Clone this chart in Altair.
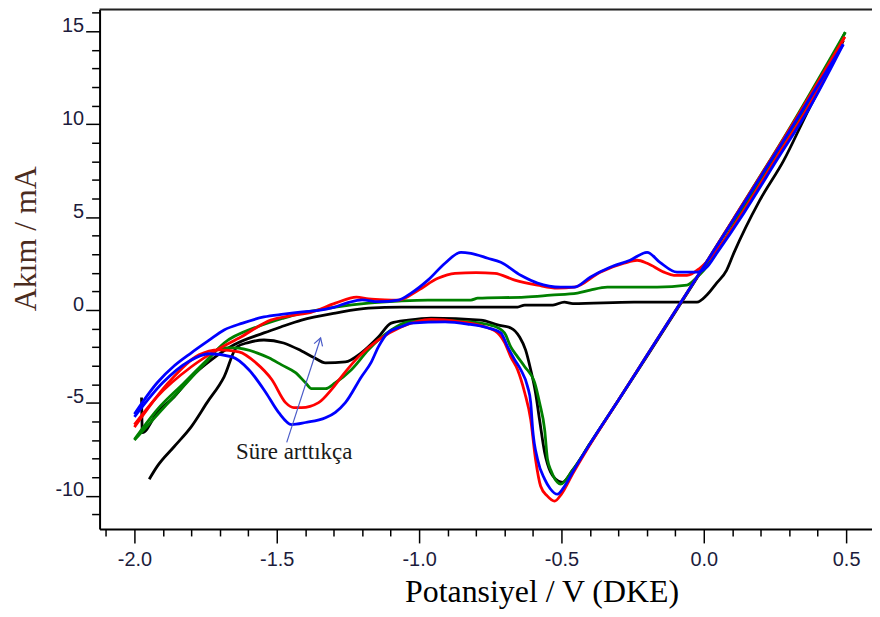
import altair as alt
import pandas as pd

# ---------------- data ----------------
# Each curve is one closed CV loop: anodic branch (left->right) then cathodic branch (right->left)
blue_x = [-2.00, -1.92, -1.86, -1.80, -1.74, -1.685, -1.62, -1.545, -1.476, -1.41, -1.353, -1.30, -1.25, -1.20,
          -1.143, -1.073, -1.028, -0.969, -0.909, -0.853, -0.818, -0.759, -0.713, -0.643, -0.584, -0.503, -0.455,
          -0.399, -0.329, -0.259, -0.199, -0.154, -0.094, -0.024, 0.010, 0.045, 0.140, 0.255, 0.371, 0.490,
          0.30, 0.10, 0.0, -0.10, -0.20, -0.30, -0.40, -0.46, -0.49, -0.514, -0.54, -0.559, -0.584, -0.601,
          -0.608, -0.619, -0.643, -0.664, -0.689, -0.713, -0.76, -0.83, -0.909, -1.028, -1.063, -1.108, -1.143,
          -1.168, -1.203, -1.259, -1.294, -1.329, -1.399, -1.448, -1.493, -1.538, -1.598, -1.657, -1.738, -1.808,
          -1.90, -2.00]
blue_y = [-5.60, -3.91, -3.00, -2.30, -1.65, -1.07, -0.70, -0.37, -0.22, -0.10, -0.02, 0.15, 0.40, 0.55,
          0.45, 0.54, 0.91, 1.61, 2.52, 3.11, 3.05, 2.79, 2.57, 1.87, 1.45, 1.23, 1.23,
          1.77, 2.30, 2.68, 3.11, 2.57, 2.04, 2.04, 2.30, 3.05, 5.20, 8.03, 10.87, 14.30,
          9.60, 4.75, 2.35, -0.05, -2.45, -4.85, -7.20, -8.70, -9.50, -9.91, -9.60, -9.10, -8.03, -6.43,
          -4.98, -4.12, -3.21, -2.68, -1.98, -1.23, -0.95, -0.75, -0.64, -0.70, -0.90, -1.20, -1.98,
          -2.80, -3.60, -4.98, -5.50, -5.80, -6.05, -6.16, -5.52, -4.45, -3.21, -2.52, -2.35, -2.75,
          -3.90, -5.75]

red_x = [-2.00, -1.92, -1.80, -1.71, -1.626, -1.521, -1.45, -1.38, -1.294, -1.22, -1.178, -1.12, -1.073, -1.003,
         -0.934, -0.874, -0.80, -0.734, -0.664, -0.584, -0.514, -0.455, -0.364, -0.280, -0.234, -0.199, -0.140,
         -0.105, -0.059, -0.014, 0.045, 0.140, 0.255, 0.371, 0.495,
         0.30, 0.10, 0.0, -0.10, -0.20, -0.30, -0.40, -0.46, -0.50, -0.524, -0.55, -0.573, -0.591, -0.608, -0.629,
         -0.654, -0.678, -0.699, -0.724, -0.78, -0.86, -0.958, -1.063, -1.143, -1.213, -1.273, -1.308, -1.353,
         -1.413, -1.44, -1.469, -1.517, -1.573, -1.633, -1.703, -1.773, -1.88, -2.00]
red_y = [-6.16, -4.66, -3.05, -2.14, -1.45, -0.54, -0.30, -0.12, 0.37, 0.70, 0.60, 0.55, 0.54, 1.07,
         1.71, 1.98, 2.02, 1.98, 1.61, 1.34, 1.18, 1.23, 2.04, 2.52, 2.68, 2.52, 2.04,
         1.87, 1.87, 2.25, 3.20, 5.35, 8.20, 11.05, 14.70,
         9.70, 4.80, 2.35, -0.05, -2.45, -4.85, -7.25, -8.80, -9.90, -10.28, -10.00, -9.48, -8.03, -5.89, -4.45,
         -3.21, -2.52, -1.77, -1.23, -0.85, -0.62, -0.50, -0.91, -1.61, -2.52, -3.59, -4.28, -4.98,
         -5.25, -5.25, -4.98, -3.75, -2.84, -2.25, -2.14, -2.41, -3.90, -6.30]

green_x = [-2.00, -1.92, -1.825, -1.745, -1.685, -1.570, -1.476, -1.413, -1.294, -1.178, -1.073, -0.969, -0.818,
           -0.794, -0.629, -0.538, -0.444, -0.399, -0.339, -0.164, -0.059, -0.024, 0.0, 0.056, 0.140, 0.255,
           0.371, 0.497,
           0.30, 0.10, 0.0, -0.10, -0.20, -0.30, -0.40, -0.46, -0.503, -0.514, -0.535, -0.549, -0.559, -0.577,
           -0.594, -0.629, -0.654, -0.678, -0.70, -0.74, -0.83, -0.958, -1.038, -1.098, -1.143, -1.178, -1.238,
           -1.294, -1.329, -1.378, -1.399, -1.434, -1.483, -1.528, -1.570, -1.650, -1.696, -1.745, -1.84, -2.00]
green_y = [-6.96, -5.36, -3.91, -2.68, -1.77, -0.91, -0.43, -0.16, 0.16, 0.37, 0.48, 0.54, 0.54,
           0.64, 0.70, 0.80, 0.91, 1.07, 1.23, 1.23, 1.34, 1.77, 2.14, 3.37, 5.52, 8.41,
           11.25, 14.95,
           9.75, 4.80, 2.35, -0.05, -2.45, -4.85, -7.20, -8.60, -9.37, -9.27, -8.70, -8.03, -6.43, -4.98,
           -3.91, -3.05, -2.52, -1.98, -1.23, -0.85, -0.62, -0.55, -0.64, -1.07, -1.61, -2.14, -3.21,
           -3.91, -4.23, -4.23, -3.91, -3.37, -2.95, -2.57, -2.30, -2.04, -2.04, -2.75, -4.30, -7.00]

black_x = [-1.975, -1.972, -1.92, -1.86, -1.80, -1.73, -1.65, -1.545, -1.486, -1.413, -1.294, -1.178, -1.063,
           -0.654, -0.629, -0.53, -0.490, -0.46, -0.245, -0.024, 0.010, 0.045, 0.080, 0.105, 0.196, 0.280,
           0.371, 0.420, 0.490,
           0.30, 0.10, 0.0, -0.10, -0.20, -0.30, -0.40, -0.46, -0.497, -0.52, -0.538, -0.559, -0.577, -0.591,
           -0.608, -0.626, -0.647, -0.678, -0.724, -0.783, -0.958, -1.038, -1.098, -1.143, -1.203, -1.259,
           -1.329, -1.37, -1.413, -1.476, -1.545, -1.600, -1.640, -1.685, -1.745, -1.80, -1.86, -1.92, -1.948]
black_y = [-4.70, -6.59, -5.52, -4.66, -3.59, -2.68, -1.87, -1.23, -0.91, -0.54, -0.16, 0.11, 0.16,
           0.16, 0.27, 0.27, 0.43, 0.35, 0.43, 0.43, 0.80, 1.45, 2.14, 3.05, 5.89, 8.03,
           10.87, 12.32, 14.50,
           9.60, 4.75, 2.30, -0.10, -2.50, -4.85, -7.20, -8.60, -9.27, -9.10, -8.73, -7.66, -5.89, -4.45,
           -3.21, -2.14, -1.45, -0.96, -0.80, -0.54, -0.43, -0.54, -0.70, -1.45, -2.30, -2.79,
           -2.84, -2.55, -2.20, -1.77, -1.61, -1.75, -1.98, -3.59, -4.98, -6.27, -7.34, -8.41, -9.10]

curve_names = ["black", "green", "red", "blue"]
curve_colors = ["#000000", "#008000", "#ff0000", "#0000ff"]

x_ticks = [round(-2.1 + 0.1 * i, 1) for i in range(28)]        # -2.1 ... 0.6
y_ticks = list(range(-11, 17))

arrow_x = [-1.465, -1.346]
arrow_y = [-7.12, -1.50]
note_text = ["Süre arttıkça"]
note_x = [-1.643]
note_y = [-8.03]

# ---------------- build table: split each loop at its turning point ----------------
series = {"black": (black_x, black_y), "green": (green_x, green_y),
          "red": (red_x, red_y), "blue": (blue_x, blue_y)}
rows = []
for name in curve_names:
    xs_, ys_ = series[name]
    k = xs_.index(max(xs_))
    for i, (xv, yv) in enumerate(zip(xs_, ys_)):
        if i <= k:
            rows.append({"curve": name, "branch": "up", "x": xv, "y": yv})
        if i >= k:
            rows.append({"curve": name, "branch": "down", "x": xv, "y": yv})
df = pd.DataFrame(rows)

X_DOM = [-2.1224, 0.5909]
Y_DOM = [-11.78, 16.18]
W, H = 776, 522

major_x = "abs(datum.value*2 - round(datum.value*2)) < 0.01"
major_y = "abs(datum.value/5 - round(datum.value/5)) < 0.01"

x_axis = alt.Axis(
    values=x_ticks, grid=False,
    tickSize={"condition": {"test": major_x, "value": 14}, "value": 7},
    tickColor="black", tickWidth=1.5, domainColor="black", domainWidth=2,
    labelExpr=major_x + " ? replace(format(datum.value, '.1f'), '\u2212', '-') : ''",
    labelFont="Liberation Sans", labelFontSize=20, labelColor="#1c1c3c", labelPadding=7,
    labelFlush=False, labelOverlap=False,
    title="Potansiyel / V (DKE)", titleFont="Liberation Serif", titleFontSize=32,
    titleFontWeight="normal", titleColor="black", titleX=444, titleY=73,
    titleBaseline="alphabetic", titleAlign="center",
)
y_axis = alt.Axis(
    values=y_ticks, grid=False,
    tickSize={"condition": {"test": major_y, "value": 14}, "value": 8},
    tickColor="black", tickWidth=1.5, domainColor="black", domainWidth=2,
    labelExpr=major_y + " ? replace(format(datum.value, 'd'), '\u2212', '-') : ''",
    labelFont="Liberation Sans", labelFontSize=20, labelColor="#1c1c3c", labelPadding=2,
    labelBaseline="alphabetic", labelFlush=False, labelOverlap=False,
    title="Akım / mA", titleFont="Liberation Serif", titleFontSize=32,
    titleFontWeight="normal", titleColor="#4b2c1e", titleX=-64, titleY=230,
    titleBaseline="alphabetic", titleAlign="center", titleAngle=270,
)

xs = alt.Scale(domain=X_DOM, nice=False, zero=False)
ys = alt.Scale(domain=Y_DOM, nice=False, zero=False)


def X():
    return alt.X("x:Q", scale=xs, axis=x_axis)


def Y():
    return alt.Y("y:Q", scale=ys, axis=y_axis)


layers = []
for name, col in zip(curve_names, curve_colors):
    layers.append(
        alt.Chart(df[df.curve == name]).mark_line(
            color=col, strokeWidth=2.8, clip=True, interpolate="monotone")
        .encode(x=X(), y=Y(), detail="branch:N")
    )

arrow_df = pd.DataFrame({"x": arrow_x, "y": arrow_y})
arrow = alt.Chart(arrow_df).mark_line(color="#4a5bc8", strokeWidth=1.2).encode(x=X(), y=Y())
head = alt.Chart(arrow_df.iloc[[1]]).mark_point(
    shape="M -0.6 1 L 0 0 L 0.6 1", filled=False, color="#4a5bc8", strokeWidth=1.2,
    size=220, angle=18, opacity=1).encode(x=X(), y=Y())

note = alt.Chart(pd.DataFrame({"t": note_text, "x": note_x, "y": note_y})).mark_text(
    font="Liberation Serif", fontSize=23, color="#1a1a1a", align="left", baseline="alphabetic"
).encode(x=X(), y=Y(), text="t:N")

top_line = alt.Chart(pd.DataFrame({"a": [0]})).mark_rule(color="#222222", strokeWidth=2).encode(
    x=alt.value(0), x2=alt.value(W), y=alt.value(0))

chart = alt.layer(*layers, arrow, head, note, top_line).properties(
    width=W, height=H, autosize="none",
    padding={"left": 92, "top": 0, "right": 0, "bottom": 80},
).configure_view(stroke=None).configure(background="white")

chart.save("out.html", embed_options={"renderer": "svg", "actions": False})
